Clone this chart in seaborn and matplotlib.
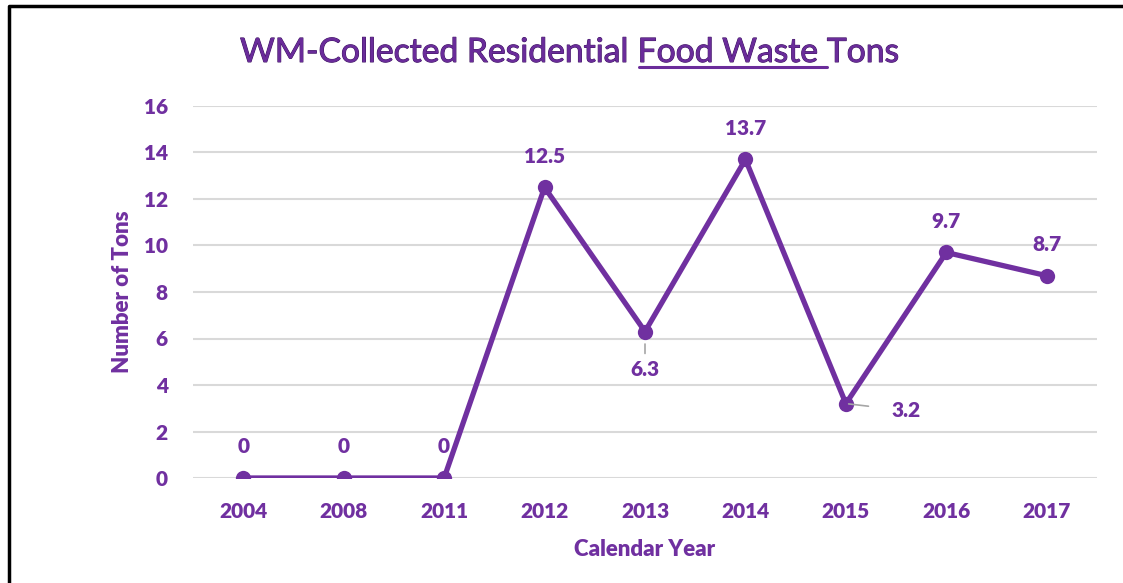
import matplotlib
matplotlib.use("Agg")
import matplotlib.pyplot as plt
import matplotlib.transforms as mtrans
import matplotlib.patheffects as pe
import seaborn as sns
import pandas as pd
from matplotlib.lines import Line2D

years = ["2004", "2008", "2011", "2012", "2013", "2014", "2015", "2016", "2017"]
tons = [0, 0, 0, 12.5, 6.3, 13.7, 3.2, 9.7, 8.7]
labels = ["0", "0", "0", "12.5", "6.3", "13.7", "3.2", "9.7", "8.7"]
yticks = [0, 2, 4, 6, 8, 10, 12, 14, 16]

PURPLE = "#7030A0"
TITLE = "#6A2C9A"
FONT = "Lato"
WEIGHT = "heavy"

sns.set_theme(style="white")
plt.rcParams["font.family"] = [FONT, "DejaVu Sans"]

df = pd.DataFrame({"Year": years, "Tons": tons})

fig = plt.figure(figsize=(11.23, 5.83), dpi=100)
ax = fig.add_axes([193 / 1123, 1 - 478 / 583, (1097 - 193) / 1123, (478 - 106) / 583])

sns.lineplot(data=df, x="Year", y="Tons", sort=False, ax=ax, color=PURPLE,
             linewidth=3.8, marker="o", markersize=11, markeredgewidth=0)

ax.set_xlim(-0.5, len(years) - 0.5)
ax.set_ylim(0, 16)
ax.set_yticks(yticks)
ax.set_yticklabels([str(v) for v in yticks])
ax.grid(axis="y", color="#D9D9D9", linewidth=1.5)
ax.grid(axis="x", visible=False)
ax.set_axisbelow(True)
for s in ax.spines.values():
    s.set_visible(False)
ax.tick_params(axis="both", length=0, labelsize=15, labelcolor=PURPLE)
for t in ax.get_xticklabels() + ax.get_yticklabels():
    t.set_fontweight(WEIGHT)
ax.tick_params(axis="x", pad=17)
ax.tick_params(axis="y", pad=18)

ax.set_xlabel("Calendar Year", fontsize=16, fontweight=WEIGHT, color=PURPLE, labelpad=13)
ax.set_ylabel("Number of Tons", fontsize=16, fontweight=WEIGHT, color=PURPLE, labelpad=8)

# data labels
for i, (v, lab) in enumerate(zip(tons, labels)):
    kw = dict(fontsize=15, fontweight=WEIGHT, color=PURPLE, ha="center", va="center",
              textcoords="offset points", xycoords="data")
    if lab == "6.3":
        ax.annotate(lab, (i, v), xytext=(0, -27), **kw,
                    arrowprops=dict(arrowstyle="-", color="#A6A6A6", lw=1.2,
                                    shrinkA=2, shrinkB=9))
    elif lab == "3.2":
        ax.annotate(lab, (i, v), xytext=(43, -5), **kw,
                    arrowprops=dict(arrowstyle="-", color="#A6A6A6", lw=1.2,
                                    shrinkA=14, shrinkB=2))
    else:
        ax.annotate(lab, (i, v), xytext=(0, 22.5), **kw)

# title with underlined part
fig.canvas.draw()
renderer = fig.canvas.get_renderer()
ident = mtrans.IdentityTransform()
stroke = [pe.withStroke(linewidth=0.7, foreground="#3D1460")]
parts = ["WM-Collected Residential ", "Food Waste ", "Tons"]
x0 = 240
ybase = 583 - 62
cur = x0
ul_x0 = ul_x1 = None
for p in parts:
    t = fig.text(cur, ybase, p, fontsize=24.2, color=TITLE, va="baseline", ha="left",
                 path_effects=stroke)
    t.set_transform(ident)
    bb = t.get_window_extent(renderer)
    if p == "Food Waste ":
        ul_x0, ul_x1 = cur, bb.x1
    cur = bb.x1
fig.add_artist(Line2D([ul_x0 + 1, ul_x1], [ybase - 5, ybase - 5], color=TITLE, lw=2.2,
                      transform=ident))

# frame (left and top)
fig.add_artist(Line2D([9 / 1123, 9 / 1123, 1.0], [0, 1 - 6 / 583, 1 - 6 / 583],
                      color="black", lw=2.5, transform=fig.transFigure))

fig.savefig("out.png", dpi=100)
